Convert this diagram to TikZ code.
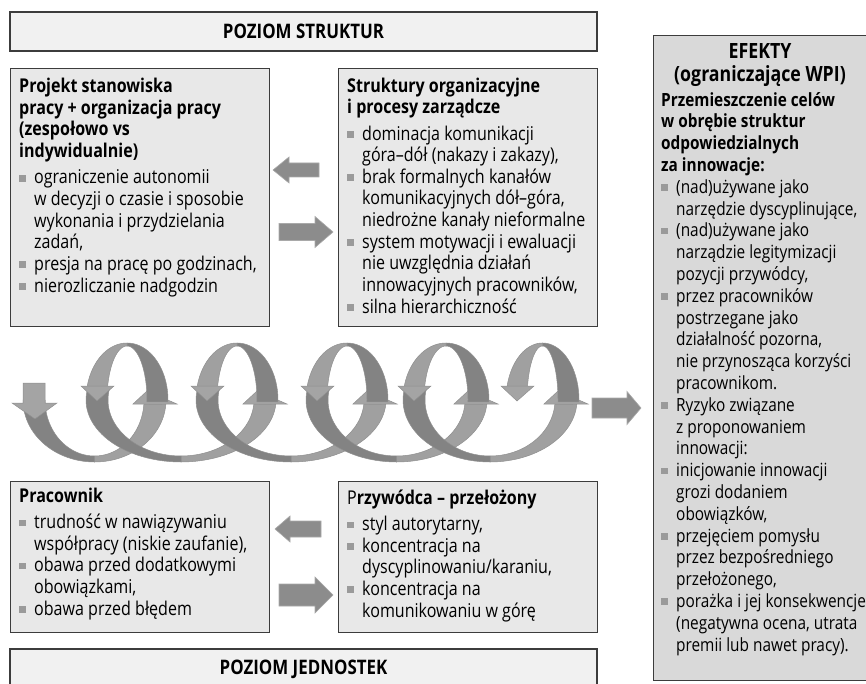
\documentclass[tikz,border=0pt]{standalone}
\usepackage{fontspec}
\setmainfont{Open Sans}[FakeStretch=0.845]
\definecolor{barfill}{HTML}{F1F1F1}
\definecolor{boxfill}{HTML}{E8E8E8}
\definecolor{efffill}{HTML}{D9D9D9}
\definecolor{linec}{HTML}{3C3C3C}
\definecolor{bulc}{HTML}{9A9A9A}
\definecolor{arrf}{HTML}{8C8C8C}
\definecolor{arrd}{HTML}{A9A9A9}
\definecolor{ribL}{HTML}{A0A0A0}
\definecolor{ribD}{HTML}{838383}
\definecolor{ribE}{HTML}{8F8F8F}
\definecolor{headF}{HTML}{A4A4A4}
\newcommand{\bsq}{\makebox[15pt][l]{\textcolor{bulc}{\rule[2.5pt]{6.5pt}{6.5pt}}}}
\newcommand{\ind}{\hspace*{15pt}}
\newcommand{\blockarrow}[6]{\filldraw[blk] (#1,#2) -- (#3,{#2-#6}) -- (#3,{#2-#5}) -- (#4,{#2-#5}) -- (#4,{#2+#5}) -- (#3,{#2+#5}) -- (#3,{#2+#6}) -- cycle;}
\begin{document}
\begin{tikzpicture}[x=1pt,y=-1pt,
  bar/.style={draw=linec, line width=1.1pt, fill=barfill, anchor=center, inner sep=0pt, font=\fontsize{20}{22}\selectfont\bfseries},
  box/.style={draw=linec, line width=1.1pt, fill=boxfill, anchor=north west, inner sep=0pt},
  effbox/.style={draw=linec, line width=1.1pt, fill=efffill, anchor=north west, inner sep=0pt},
  txt/.style={anchor=base west, inner sep=0pt, align=left, font=\fontsize{19}{21.6}\selectfont},
  blk/.style={fill=arrf, draw=arrd, line width=0.6pt},
  ribl/.style={fill=ribL, draw=ribE, line width=0.5pt},
  ribd/.style={fill=ribD, draw=ribE, line width=0.5pt},
  headst/.style={fill=headF, draw=ribE, line width=0.5pt}]
\useasboundingbox (0,0) rectangle (866,684);
\clip (0,0) rectangle (866,684);

% level bars
\node[bar, minimum width=587pt, minimum height=39pt] (topbar) at (303.5,31.5) {POZIOM STRUKTUR};
\node[bar, minimum width=587pt, minimum height=41pt] (botbar) at (303.5,669.5) {POZIOM JEDNOSTEK};

% boxes
\node[box, minimum width=259pt, minimum height=258pt] (b1) at (10,68) {};
\node[box, minimum width=259pt, minimum height=258pt] (b2) at (338,68) {};
\node[box, minimum width=259pt, minimum height=151pt] (b3) at (10,481) {};
\node[box, minimum width=259pt, minimum height=151pt] (b4) at (338,481) {};
\node[effbox, minimum width=217pt, minimum height=645pt] (eff) at (653,35) {};

% texts (base anchor = last line)
\node[txt] (t1) at (19,292) {\textbf{Projekt stanowiska}\\ \textbf{pracy + organizacja pracy}\\ \textbf{(zespołowo vs}\\ \textbf{indywidualnie)}\\[5pt]
\bsq ograniczenie autonomii\\ \ind w decyzji o czasie i sposobie\\ \ind wykonania i przydzielania\\ \ind zadań,\\ \bsq presja na pracę po godzinach,\\ \bsq nierozliczanie nadgodzin};

\node[txt] (t2) at (347,313) {\textbf{Struktury organizacyjne}\\ \textbf{i procesy zarządcze}\\[5pt]
\bsq dominacja komunikacji\\ \ind góra–dół (nakazy i zakazy),\\ \bsq brak formalnych kanałów\\ \ind komunikacyjnych dół–góra,\\ \ind niedrożne kanały nieformalne\\ \bsq system motywacji i ewaluacji\\ \ind nie uwzględnia działań\\ \ind innowacyjnych pracowników,\\ \bsq silna hierarchiczność};

\node[txt] (t3) at (19,615) {\textbf{Pracownik}\\[5pt]
\bsq trudność w nawiązywaniu\\ \ind współpracy (niskie zaufanie),\\ \bsq obawa przed dodatkowymi\\ \ind obowiązkami,\\ \bsq obawa przed błędem};

\node[txt] (t4) at (347,617) {P\textbf{rzywódca – przełożony}\\[5pt]
\bsq styl autorytarny,\\ \bsq koncentracja na\\ \ind dyscyplinowaniu/karaniu,\\ \bsq koncentracja na\\ \ind komunikowaniu w górę};

\node[anchor=base, inner sep=0pt, align=center, font=\fontsize{21}{23}\selectfont\bfseries] (th) at (760,82) {EFEKTY\\(ograniczające WPI)};

\node[txt, font=\fontsize{18.2}{21.8}\selectfont] (t5) at (661,651) {\textbf{Przemieszczenie celów}\\ \textbf{w obrębie struktur}\\ \textbf{odpowiedzialnych}\\ \textbf{za innowacje:}\\
\bsq (nad)używane jako\\ \ind narzędzie dyscyplinujące,\\ \bsq (nad)używane jako\\ \ind narządzie legitymizacji\\ \ind pozycji przywódcy,\\ \bsq przez pracowników\\ \ind postrzegane jako\\ \ind działalność pozorna,\\ \ind nie przynosząca korzyści\\ \ind pracownikom.\\
\bsq Ryzyko związane\\ \ind z proponowaniem\\ \ind innowacji:\\ \bsq inicjowanie innowacji\\ \ind grozi dodaniem\\ \ind obowiązków,\\ \bsq przejęciem pomysłu\\ \ind przez bezpośredniego\\ \ind przełożonego,\\ \bsq porażka i jej konsekwencje\\ \ind (negatywna ocena, utrata\\ \ind premii lub nawet pracy).};

% block arrows
\blockarrow{273}{170}{289}{319}{7}{13}
\blockarrow{333}{232}{315}{279}{8.5}{15.5}
\blockarrow{275}{529}{290}{321}{8}{13}
\blockarrow{333}{595}{315}{279}{11}{18}
\blockarrow{641}{408}{627}{592}{10}{16.5}

% spiral: bottom swoops, light (ascending) halves
\foreach \Lb/\Rb/\sa in {34/155/180, 97/265/192, 207/375/192, 317/476/192, 414/566/192} {
  \pgfmathsetmacro\cxb{(\Lb+\Rb)/2}
  \pgfmathsetmacro\rxo{(\Rb-\Lb)/2+11}
  \pgfmathsetmacro\rxi{(\Rb-\Lb)/2-11}
  \filldraw[ribl] plot[domain=90:4,samples=30] ({\cxb+\rxo*cos(\x)},{400+62*sin(\x)}) -- plot[domain=4:90,samples=30] ({\cxb+\rxi*cos(\x)},{400+56*sin(\x)}) -- cycle;
}
% bottom swoops, dark (descending) halves
\foreach \Lb/\Rb/\sa in {34/155/180, 97/265/192, 207/375/192, 317/476/192, 414/566/192} {
  \pgfmathsetmacro\cxb{(\Lb+\Rb)/2}
  \pgfmathsetmacro\rxo{(\Rb-\Lb)/2+11}
  \pgfmathsetmacro\rxi{(\Rb-\Lb)/2-11}
  \filldraw[ribd] plot[domain=\sa:90,samples=30] ({\cxb+\rxo*cos(\x)},{400+62*sin(\x)}) -- plot[domain=90:\sa,samples=30] ({\cxb+\rxi*cos(\x)},{400+56*sin(\x)}) -- cycle;
}
% up heads
\foreach \R in {155,265,375,476,566} {
  \filldraw[headst] ({\R-22},404) -- ({\R+22},404) -- ({\R-8},391) -- cycle;
}
% top rings
\foreach \L/\R in {97/155,207/265,317/375,414/476,517/566} {
  \pgfmathsetmacro\cx{(\L+\R)/2+1}
  \pgfmathsetmacro\rxo{(\R-\L)/2+12}
  \pgfmathsetmacro\rxi{(\R-\L)/2-9}
  \filldraw[ribd] plot[domain=2:-90,samples=30] ({\cx+\rxo*cos(\x)},{400+57*sin(\x)}) -- plot[domain=-90:2,samples=30] ({\cx+\rxi*cos(\x)},{400+54*sin(\x)}) -- cycle;
  \filldraw[ribl] plot[domain=-90:-166,samples=30] ({\cx+\rxo*cos(\x)},{400+57*sin(\x)}) -- plot[domain=-166:-90,samples=30] ({\cx+\rxi*cos(\x)},{400+54*sin(\x)}) -- cycle;
}
% down heads
\foreach \L in {97,207,317,414,517} {
  \filldraw[headst] ({\L-16},386) -- ({\L+17},386) -- (\L,401) -- cycle;
}
% far-left down arrow
\filldraw[headst] (23,383) -- (45,383) -- (45,403) -- (57,403) -- (35,419) -- (12,403) -- (23,403) -- cycle;
\end{tikzpicture}
\end{document}
